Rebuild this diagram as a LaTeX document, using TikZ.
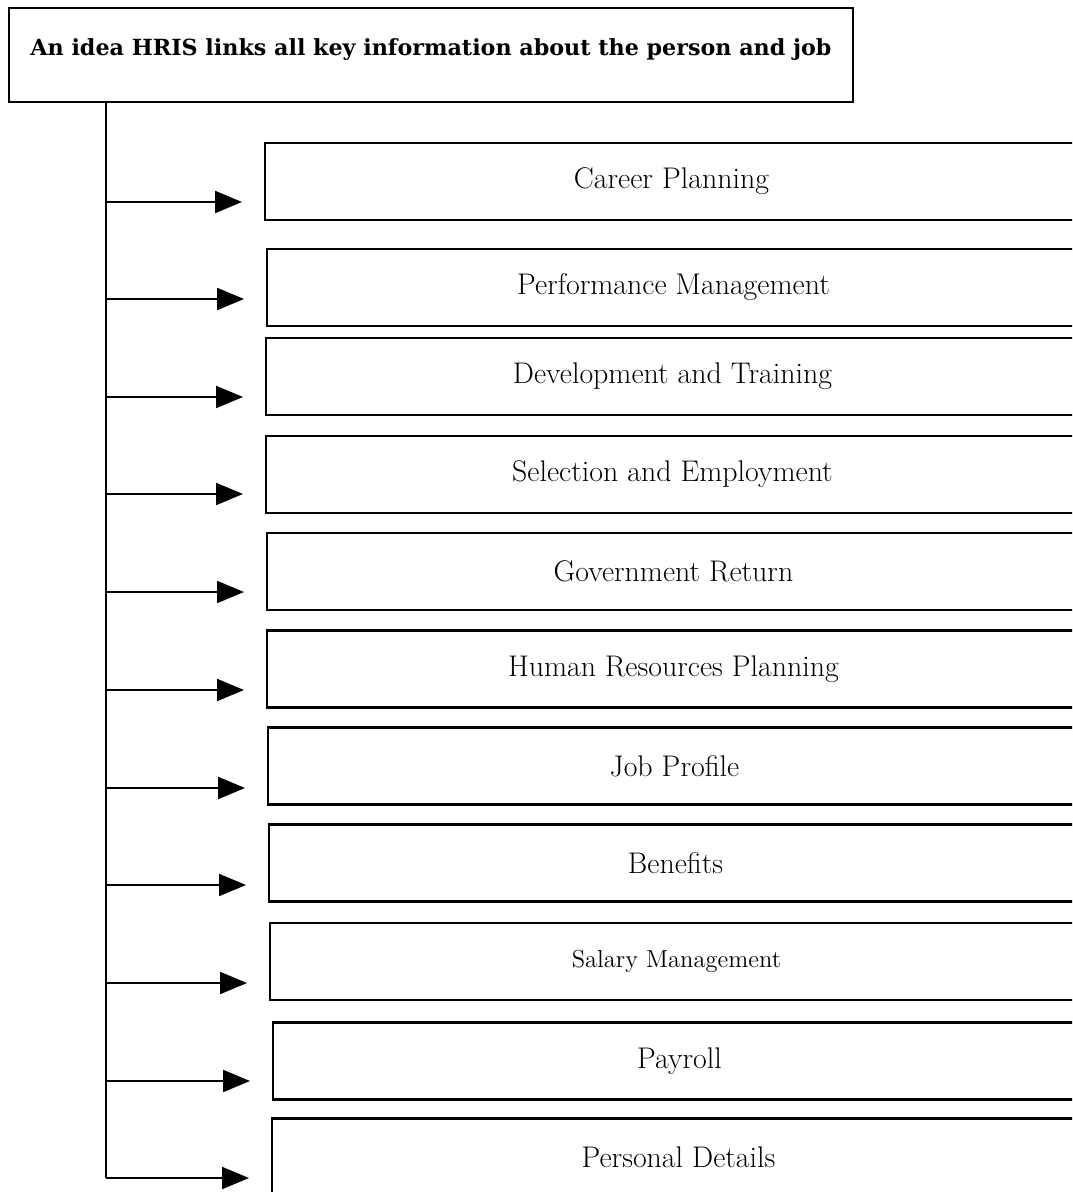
\documentclass[tikz,border=0pt]{standalone}
\usepackage{fontspec}
\newfontfamily\slabfont{DejaVu Serif}
\usetikzlibrary{arrows.meta}
\tikzset{
  headbox/.style={draw,line width=1.2pt,minimum width=16.88cm,minimum height=1.88cm,text depth=0.3cm,
    anchor=north west,font=\slabfont\bfseries\fontsize{12.65}{15}\selectfont},
  itembox/.style={draw,line width=1.2pt,minimum width=16.26cm,minimum height=1.54cm,
    anchor=west,font=\fontsize{17}{20}\selectfont},
  link/.style={line width=1.2pt,-{Triangle[length=0.54cm,width=0.44cm]},shorten >=0.44cm},
}

\begin{document}
\begin{tikzpicture}[x=0.02cm,y=-0.02cm]
    \path[use as bounding box,clip] (0,0) rectangle (1072,1192);

    \node[headbox] (hris) at (8,7) {An idea HRIS links all key information about the person and job};

    \node[itembox] (career) at (264,181.5) {Career Planning};
    \node[itembox] (perf) at (266,287.5) {Performance Management};
    \node[itembox] (devel) at (265,376.5) {Development and Training};
    \node[itembox] (select) at (265,474.5) {Selection and Employment};
    \node[itembox] (govt) at (266,571.5) {Government Return};
    \node[itembox] (hrp) at (266,669) {Human Resources Planning};
    \node[itembox] (jobprof) at (267,766) {Job Profile};
    \node[itembox] (benef) at (268,863) {Benefits};
    \node[itembox,font=\fontsize{14}{17}\selectfont] (salary) at (269,961.5) {Salary Management};
    \node[itembox] (payroll) at (272,1061) {Payroll};
    \node[itembox] (person) at (271,1157) {Personal Details};

    \coordinate (t1) at (106,202);
    \coordinate (t2) at (106,299);
    \coordinate (t3) at (106,397);
    \coordinate (t4) at (106,494);
    \coordinate (t5) at (106,592);
    \coordinate (t6) at (106,690);
    \coordinate (t7) at (106,788);
    \coordinate (t8) at (106,885);
    \coordinate (t9) at (106,983);
    \coordinate (t10) at (106,1081);
    \coordinate (t11) at (106,1178);

    \draw[line width=1.2pt] (hris.south -| t1) -- (t11);

    \draw[link] (t1) -- (t1 -| career.west);
    \draw[link] (t2) -- (t2 -| perf.west);
    \draw[link] (t3) -- (t3 -| devel.west);
    \draw[link] (t4) -- (t4 -| select.west);
    \draw[link] (t5) -- (t5 -| govt.west);
    \draw[link] (t6) -- (t6 -| hrp.west);
    \draw[link] (t7) -- (t7 -| jobprof.west);
    \draw[link] (t8) -- (t8 -| benef.west);
    \draw[link] (t9) -- (t9 -| salary.west);
    \draw[link] (t10) -- (t10 -| payroll.west);
    \draw[link] (t11) -- (t11 -| person.west);
\end{tikzpicture}
\end{document}
